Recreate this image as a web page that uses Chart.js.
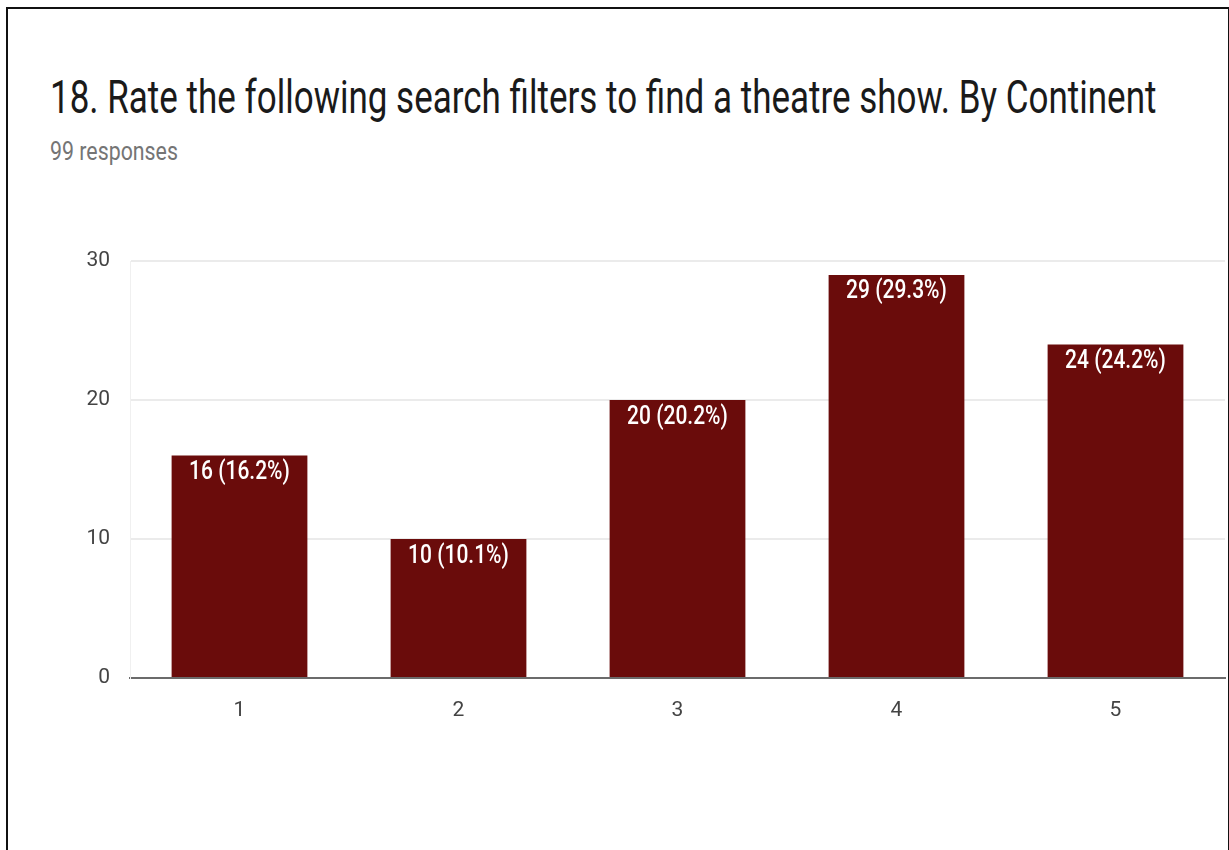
<!DOCTYPE html>
<html>
<head>
<meta charset="utf-8">
<script src="https://cdn.jsdelivr.net/npm/chart.js@4"></script>
<style>
  html, body { margin: 0; padding: 0; background: #fff; }
  body { width: 1229px; height: 850px; position: relative; overflow: hidden; font-family: Roboto, "Noto Sans", sans-serif; }
  .frame { position: absolute; left: 6px; top: 7px; width: 1220px; height: 860px; border: 2px solid #111; border-bottom: none; }
  .title { position: absolute; left: 50px; top: 70px; font-size: 40px; color: #1a1a1a; white-space: nowrap; transform-origin: left top; transform: scale(0.875, 1.17); }
  .sub { position: absolute; left: 50px; top: 136px; font-size: 22px; color: #757575; white-space: nowrap; transform-origin: left top; transform: scale(0.97, 1.2); }
  #wrap { position: absolute; left: 0; top: 0; width: 1229px; height: 850px; }
</style>
</head>
<body>
<div class="frame"></div>
<div class="title">18. Rate the following search filters to find a theatre show. By Continent</div>
<div class="sub">99 responses</div>
<div id="wrap"><canvas id="chart"></canvas></div>
<script>
// ratings 1..5 and how many people picked each
const ratings = ["1", "2", "3", "4", "5"];
const counts = [16, 10, 20, 29, 24];
const percents = [16.2, 10.1, 20.2, 29.3, 24.2];
const yTicks = [0, 10, 20, 30];

// white "n (p%)" labels just inside the top of each bar, drawn a little tall
const barLabels = {
    id: "barLabels",
    afterDatasetsDraw(chart) {
        const ctx = chart.ctx;
        const meta = chart.getDatasetMeta(0);
        meta.data.forEach((bar, i) => {
            ctx.save();
            ctx.translate(bar.x, bar.y + 17);
            ctx.scale(1, 1.25);
            ctx.fillStyle = "#ffffff";
            ctx.font = "500 21px Roboto";
            ctx.textAlign = "center";
            ctx.textBaseline = "middle";
            ctx.fillText(`${counts[i]} (${percents[i]}%)`, 0, 0);
            ctx.restore();
        });
    }
};

const ctx = document.getElementById("chart").getContext("2d");
new Chart(ctx, {
    type: "bar",
    data: {
        labels: ratings,
        datasets: [{
            data: counts,
            backgroundColor: "#6a0c0b",
            borderWidth: 0,
            categoryPercentage: 1,
            barPercentage: 0.62
        }]
    },
    options: {
        responsive: true,
        maintainAspectRatio: false,
        animation: false,
        layout: { padding: { left: 0, right: 4, top: 261, bottom: 0 } },
        plugins: {
            legend: { display: false },
            tooltip: { enabled: false }
        },
        scales: {
            x: {
                afterFit: s => { s.height = 172; },
                grid: { display: false },
                border: { display: true, color: "#6b6b6b", width: 2 },
                ticks: { color: "#444", font: { family: "Roboto", size: 21 }, padding: 12 }
            },
            y: {
                min: 0,
                max: 30,
                afterFit: s => { s.width = 130; },
                afterBuildTicks: s => { s.ticks = yTicks.map(v => ({ value: v })); },
                grid: { color: "#ebebeb", lineWidth: 2, drawTicks: false },
                border: { display: true, color: "#f0f0f0", width: 1 },
                ticks: { color: "#444", font: { family: "Roboto", size: 21 }, padding: 20 }
            }
        }
    },
    plugins: [barLabels]
});
</script>
</body>
</html>
